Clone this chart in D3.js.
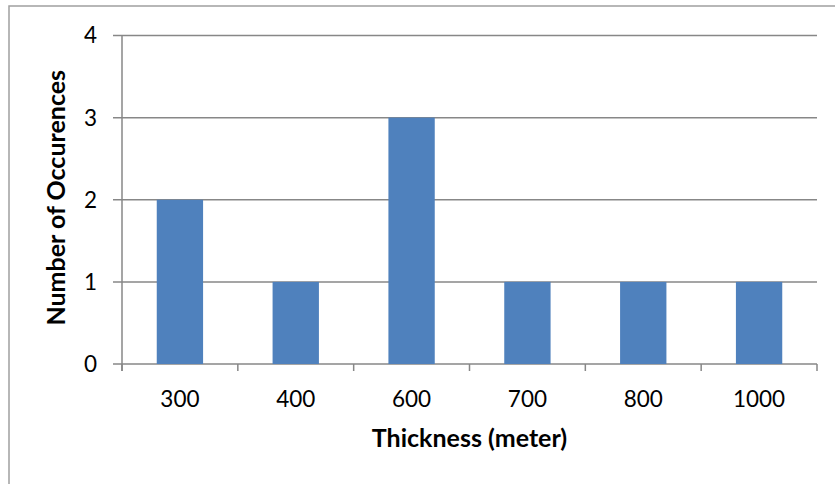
<!DOCTYPE html>
<html>
<head>
<meta charset="utf-8">
<script src="https://cdn.jsdelivr.net/npm/d3@7"></script>
<style>
  html, body { margin: 0; padding: 0; background: #fff; }
  svg { display: block; }
  text { font-family: Lato, "Open Sans", sans-serif; fill: #000; }
</style>
</head>
<body>
<svg id="chart" width="835" height="484"></svg>
<script>
const categories = ["300", "400", "600", "700", "800", "1000"];
const counts = [2, 1, 3, 1, 1, 1];
const yTicks = [0, 1, 2, 3, 4];
const xTitle = "Thickness (meter)";
const yTitle = "Number of Occurences";

const svg = d3.select("#chart");
const plot = { left: 122, right: 817, top: 35.5, bottom: 364 };

// outer frame
svg.append("rect")
  .attr("x", 9).attr("y", 6)
  .attr("width", 840).attr("height", 500)
  .attr("fill", "none").attr("stroke", "#a0a0a0").attr("stroke-width", 1.5);

const x = d3.scaleBand().domain(categories)
  .range([plot.left, plot.right]).paddingInner(0.6).paddingOuter(0.3);
const xb = d3.scaleLinear().domain([0, categories.length]).range([plot.left, plot.right]);
const y = d3.scaleLinear().domain([0, 4]).range([plot.bottom, plot.top]);

// gridlines + y tick marks
svg.append("g").selectAll("line").data(yTicks).join("line")
  .attr("x1", plot.left - 9).attr("x2", plot.right)
  .attr("y1", d => y(d)).attr("y2", d => y(d))
  .attr("stroke", "#878787").attr("stroke-width", 1.5);

// y tick labels
svg.append("g").selectAll("text").data(yTicks).join("text")
  .attr("x", 97).attr("y", d => y(d))
  .attr("dy", "0.35em")
  .attr("text-anchor", "end")
  .style("font-size", "22.5px")
  .text(d => d);

// bars
svg.append("g").selectAll("rect").data(categories).join("rect")
  .attr("x", d => x(d)).attr("width", x.bandwidth())
  .attr("y", (d, i) => y(counts[i]))
  .attr("height", (d, i) => y(0) - y(counts[i]))
  .attr("fill", "#4f81bd");

// y axis line
svg.append("line")
  .attr("x1", plot.left).attr("x2", plot.left)
  .attr("y1", plot.top).attr("y2", plot.bottom + 7)
  .attr("stroke", "#878787").attr("stroke-width", 1.5);

// x tick marks at category boundaries
svg.append("g").selectAll("line").data(d3.range(categories.length + 1)).join("line")
  .attr("x1", d => xb(d)).attr("x2", d => xb(d))
  .attr("y1", plot.bottom).attr("y2", plot.bottom + 7)
  .attr("stroke", "#878787").attr("stroke-width", 1.5);

// x tick labels
svg.append("g").selectAll("text").data(categories).join("text")
  .attr("x", d => x(d) + x.bandwidth() / 2).attr("y", 406.5)
  .attr("text-anchor", "middle")
  .style("font-size", "22.5px")
  .text(d => d);

// axis titles
svg.append("text")
  .attr("x", (plot.left + plot.right) / 2).attr("y", 446.5)
  .attr("text-anchor", "middle")
  .style("font-size", "25px").style("font-weight", "bold")
  .text(xTitle);

svg.append("text")
  .attr("transform", `translate(65,${(plot.top + plot.bottom) / 2 - 2}) rotate(-90)`)
  .attr("text-anchor", "middle")
  .style("font-size", "25px").style("font-weight", "bold")
  .text(yTitle);
</script>
</body>
</html>
